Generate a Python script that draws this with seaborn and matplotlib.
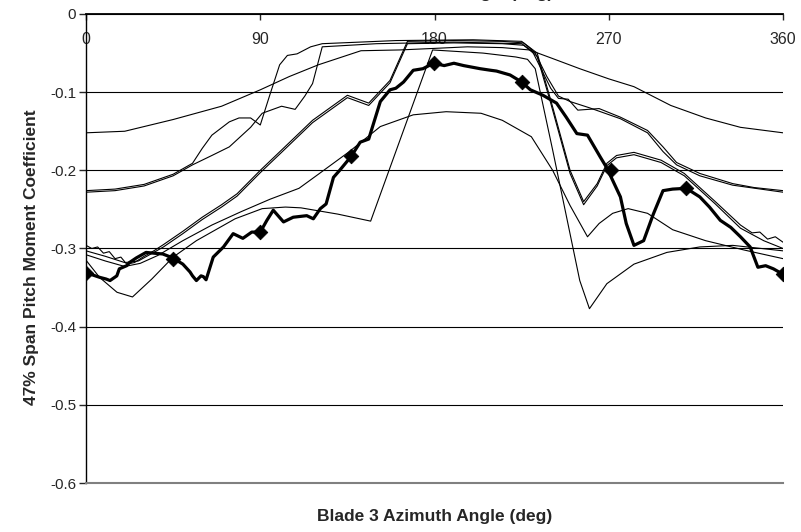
import seaborn as sns
import matplotlib.pyplot as plt

# azimuth (deg) / coefficient pairs
a_x = [0, 20, 45, 70, 90, 105, 120, 142, 162, 180, 197, 215, 229, 241, 255, 270, 283, 302, 320, 338, 360]
a_y = [-0.152, -0.150, -0.135, -0.118, -0.097, -0.080, -0.065, -0.047, -0.046, -0.044, -0.042, -0.043, -0.046, -0.057, -0.070, -0.083, -0.093, -0.117, -0.133, -0.145, -0.152]

c_x = [0, 15, 30, 45, 55, 60, 65, 74, 79, 85, 90, 95, 100, 104, 109, 116, 122, 160, 200, 225, 230, 236, 240, 244, 249, 254, 265, 276, 290, 298, 305, 317, 334, 345, 360]
c_y = [-0.226, -0.224, -0.218, -0.205, -0.191, -0.172, -0.155, -0.138, -0.133, -0.133, -0.142, -0.103, -0.065, -0.053, -0.051, -0.042, -0.038, -0.034, -0.033, -0.035, -0.045, -0.075, -0.095, -0.108, -0.109, -0.123, -0.121, -0.132, -0.149, -0.170, -0.190, -0.204, -0.217, -0.222, -0.226]

d_x = [0, 15, 30, 45, 55, 65, 74, 85, 91, 101, 108, 113, 117, 122, 150, 190, 225, 232, 238, 244, 250, 260, 276, 290, 298, 305, 317, 334, 360]
d_y = [-0.228, -0.226, -0.220, -0.207, -0.193, -0.181, -0.170, -0.145, -0.127, -0.118, -0.122, -0.105, -0.089, -0.042, -0.038, -0.036, -0.038, -0.050, -0.080, -0.105, -0.112, -0.120, -0.134, -0.152, -0.176, -0.193, -0.207, -0.219, -0.228]

e_x = [0, 3, 6, 9, 12, 15, 18, 21, 25, 30, 35, 40, 50, 60, 70, 78, 90, 101, 117, 135, 146, 157, 166, 190, 215, 226, 233, 240, 250, 257, 264, 269, 274, 283, 297, 309, 325, 338, 344, 348, 352, 356, 360]
e_y = [-0.296, -0.300, -0.298, -0.306, -0.304, -0.313, -0.311, -0.320, -0.318, -0.310, -0.303, -0.295, -0.278, -0.260, -0.244, -0.230, -0.200, -0.174, -0.136, -0.104, -0.114, -0.085, -0.035, -0.034, -0.035, -0.037, -0.050, -0.110, -0.200, -0.240, -0.217, -0.191, -0.181, -0.177, -0.187, -0.204, -0.240, -0.270, -0.280, -0.279, -0.288, -0.285, -0.292]

f_x = [0, 10, 20, 27, 35, 40, 50, 60, 70, 78, 90, 101, 117, 135, 146, 157, 166, 190, 215, 226, 233, 240, 250, 257, 264, 269, 274, 283, 297, 309, 325, 338, 350, 360]
f_y = [-0.303, -0.310, -0.318, -0.316, -0.305, -0.298, -0.281, -0.263, -0.247, -0.233, -0.203, -0.177, -0.139, -0.107, -0.117, -0.088, -0.038, -0.037, -0.038, -0.040, -0.054, -0.114, -0.204, -0.244, -0.220, -0.194, -0.184, -0.180, -0.190, -0.207, -0.243, -0.274, -0.290, -0.300]

g_x = [0, 7, 16, 24, 34, 45, 57, 77, 91, 103, 111, 130, 147, 179, 205, 222, 228, 232, 241, 255, 260, 269, 283, 300, 317, 334, 360]
g_y = [-0.315, -0.337, -0.356, -0.362, -0.339, -0.311, -0.290, -0.262, -0.249, -0.247, -0.248, -0.256, -0.265, -0.046, -0.050, -0.055, -0.058, -0.070, -0.174, -0.341, -0.377, -0.345, -0.320, -0.305, -0.298, -0.296, -0.303]

h_x = [0, 10, 20, 28, 37, 50, 65, 80, 95, 110, 120, 136, 152, 169, 186, 204, 215, 230, 241, 250, 259, 265, 272, 280, 290, 303, 320, 340, 360]
h_y = [-0.308, -0.316, -0.323, -0.319, -0.309, -0.290, -0.270, -0.253, -0.237, -0.223, -0.205, -0.176, -0.144, -0.129, -0.125, -0.127, -0.136, -0.157, -0.200, -0.245, -0.285, -0.268, -0.255, -0.249, -0.255, -0.276, -0.290, -0.302, -0.313]

# measured (thick line)
t_x = [0, 3.6, 7.2, 10.3, 12.4, 15.9, 17.2, 21, 22.4, 26, 31, 35, 39.6, 44.8, 50, 53.7, 55, 57, 59.4, 60.6, 62, 65.7, 71, 76, 81, 85.6, 90, 93.4, 96.7, 102, 107, 114, 117.4, 121, 124, 127.8, 131, 137, 141.6, 146, 149, 152, 157, 160, 164, 169, 174, 179.5, 185, 190, 195, 203.6, 209, 212, 219, 225, 229.5, 236, 243, 248, 253.5, 259, 265.6, 269, 276, 279, 283, 288, 293, 298, 303, 310, 317, 322, 327.6, 333, 338, 343, 347, 351, 355, 360]
t_y = [-0.331, -0.334, -0.337, -0.339, -0.341, -0.335, -0.326, -0.322, -0.318, -0.312, -0.305, -0.306, -0.307, -0.312, -0.320, -0.330, -0.335, -0.341, -0.335, -0.336, -0.340, -0.311, -0.298, -0.281, -0.287, -0.279, -0.279, -0.264, -0.251, -0.266, -0.260, -0.258, -0.262, -0.249, -0.243, -0.209, -0.200, -0.182, -0.164, -0.160, -0.136, -0.112, -0.097, -0.095, -0.087, -0.072, -0.070, -0.063, -0.066, -0.063, -0.066, -0.070, -0.072, -0.073, -0.078, -0.087, -0.097, -0.104, -0.114, -0.132, -0.153, -0.155, -0.183, -0.197, -0.234, -0.268, -0.296, -0.290, -0.256, -0.226, -0.224, -0.223, -0.234, -0.247, -0.264, -0.273, -0.285, -0.298, -0.324, -0.322, -0.326, -0.333]

mark_x = [0, 45, 90, 137, 179.5, 225, 271, 310, 360]
mark_y = [-0.331, -0.313, -0.279, -0.182, -0.063, -0.087, -0.200, -0.223, -0.333]

y_ticks = [0, -0.1, -0.2, -0.3, -0.4, -0.5, -0.6]
y_labels = ['0', '-0.1', '-0.2', '-0.3', '-0.4', '-0.5', '-0.6']
x_ticks = [0, 90, 180, 270, 360]

sns.set_style('white')
plt.rcParams['font.family'] = ['Liberation Sans', 'DejaVu Sans']

fig = plt.figure(figsize=(8.01, 5.32), dpi=100)
ax = fig.add_axes([0.1074, 0.0921, 0.8702, 0.8816])

thin = [(a_x, a_y), (c_x, c_y), (d_x, d_y), (e_x, e_y), (f_x, f_y), (g_x, g_y), (h_x, h_y)]
for xs, ys in thin:
    sns.lineplot(x=xs, y=ys, ax=ax, color='black', lw=0.8, estimator=None, sort=False)

sns.lineplot(x=t_x, y=t_y, ax=ax, color='black', lw=2.3, estimator=None, sort=False)
sns.scatterplot(x=mark_x, y=mark_y, ax=ax, color='black', marker='D', s=55, edgecolor='black', zorder=5)

ax.set_xlim(0, 360)
ax.set_ylim(-0.6, 0)
ax.set_yticks(y_ticks)
ax.set_yticklabels(y_labels)
ax.set_xticks(x_ticks)
ax.xaxis.tick_top()
ax.tick_params(axis='x', top=True, labeltop=True, bottom=False, labelbottom=False,
               direction='in', length=4, width=1, pad=-24, labelsize=11.5)
ax.tick_params(axis='y', left=True, direction='out', length=5, width=1, labelsize=11, pad=2)
ax.grid(axis='y', color='black', lw=0.8)
ax.grid(axis='x', visible=False)
ax.spines['right'].set_visible(False)
ax.spines['bottom'].set_color('#808080')
ax.spines['bottom'].set_linewidth(1.5)
ax.spines['top'].set_color('black')
ax.spines['top'].set_linewidth(1.3)
ax.spines['left'].set_color('black')
ax.spines['left'].set_linewidth(1)

ax.set_ylabel('47% Span Pitch Moment Coefficient', fontsize=12.5, fontweight='bold')
ax.yaxis.set_label_coords(-0.068, 0.481)
ax.set_xlabel('Blade 3 Azimuth Angle (deg)', fontsize=12.5, fontweight='bold')
ax.xaxis.set_label_position('bottom')
ax.xaxis.set_label_coords(0.5, -0.056)

# top title only shows its descenders in the original
fig.text(0.544, 1 + 1.8 / 532, 'Blade 3 Azimuth Angle (deg)', fontsize=12.5,
         fontweight='bold', ha='center', va='baseline')

plt.savefig('out.png', dpi=100)
